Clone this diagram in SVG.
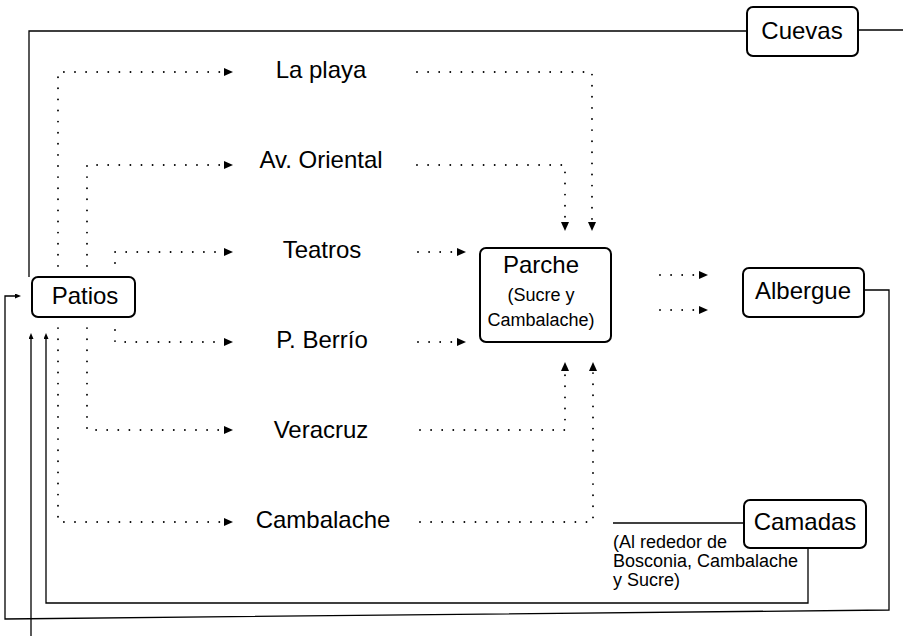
<svg xmlns="http://www.w3.org/2000/svg" width="903" height="636" viewBox="0 0 903 636">
<style>
.box{fill:#fff;stroke:#000;stroke-width:2}
.lbl{font-family:"Liberation Sans",Arial,sans-serif;font-size:24px;fill:#000;text-anchor:middle}
.sm{font-family:"Liberation Sans",Arial,sans-serif;font-size:18px;fill:#000}
.dot{fill:none;stroke:#000;stroke-width:1.9;stroke-linecap:round;stroke-dasharray:0 11.1;marker-end:url(#big)}
.solid{fill:none;stroke:#000;stroke-width:1.3}
.sa{marker-end:url(#small)}
</style>
<defs>
<marker id="big" markerUnits="userSpaceOnUse" markerWidth="10" markerHeight="9" refX="0" refY="4" orient="auto"><path d="M0,0 L9,4 L0,8 z" fill="#000"/></marker>
<marker id="small" markerUnits="userSpaceOnUse" markerWidth="7" markerHeight="6" refX="0" refY="2.5" orient="auto"><path d="M0,0 L6,2.5 L0,5 z" fill="#000"/></marker>
</defs>
<rect width="903" height="636" fill="#fff"/>
<g id="connectors">
<path class="solid" d="M747,31 H29 V277"/>
<path class="solid" d="M858,30 H903"/>
<path class="solid sa" d="M864,290 H889 V610 L5,619 V296 H15"/>
<path class="solid sa" d="M808,548 V603 H46 V339"/>
<path class="solid sa" d="M31,636 V339"/>
<path class="solid" d="M613,523 H744"/>
<path class="dot" d="M58,277 V72 H224"/>
<path class="dot" d="M87,277 V165 H224"/>
<path class="dot" d="M115,263 V252 H224"/>
<path class="dot" d="M115,330 V342 H224"/>
<path class="dot" d="M87,317 V430 H224"/>
<path class="dot" d="M58,317 V522 H224"/>
<path class="dot" d="M417,72 H592 V222"/>
<path class="dot" d="M417,165 H565 V222"/>
<path class="dot" d="M420,430 H565 V371"/>
<path class="dot" d="M420,522 H593 V371"/>
<path class="dot" d="M418,252 H457"/>
<path class="dot" d="M418,342 H457"/>
<path class="dot" d="M660,275 H699"/>
<path class="dot" d="M660,310 H699"/>
</g>
<g id="patios"><rect class="box" x="32" y="277" width="103" height="40" rx="6"/><text class="lbl" x="85" y="304">Patios</text></g>
<g id="cuevas"><rect class="box" x="747" y="7" width="111" height="49" rx="6"/><text class="lbl" x="802" y="39">Cuevas</text></g>
<g id="parche"><rect class="box" x="480" y="248" width="131" height="94" rx="6"/><text class="lbl" x="541" y="273">Parche</text><text class="sm" x="541" y="301" text-anchor="middle">(Sucre y</text><text class="sm" x="541" y="326" text-anchor="middle">Cambalache)</text></g>
<g id="albergue"><rect class="box" x="743" y="268" width="121" height="49" rx="6"/><text class="lbl" x="803" y="299">Albergue</text></g>
<g id="camadas"><rect class="box" x="744" y="500" width="122" height="48" rx="6"/><text class="lbl" x="805" y="530">Camadas</text></g>
<g id="camadas-note"><text class="sm" x="613" y="548">(Al rededor de</text><text class="sm" x="613" y="567">Bosconia, Cambalache</text><text class="sm" x="613" y="586">y Sucre)</text></g>
<g id="laplaya"><text class="lbl" x="321" y="78">La playa</text></g>
<g id="avoriental"><text class="lbl" x="321" y="168">Av. Oriental</text></g>
<g id="teatros"><text class="lbl" x="322" y="258">Teatros</text></g>
<g id="pberrio"><text class="lbl" x="322" y="348">P. Berrío</text></g>
<g id="veracruz"><text class="lbl" x="321" y="438">Veracruz</text></g>
<g id="cambalache"><text class="lbl" x="323" y="528">Cambalache</text></g>
</svg>
